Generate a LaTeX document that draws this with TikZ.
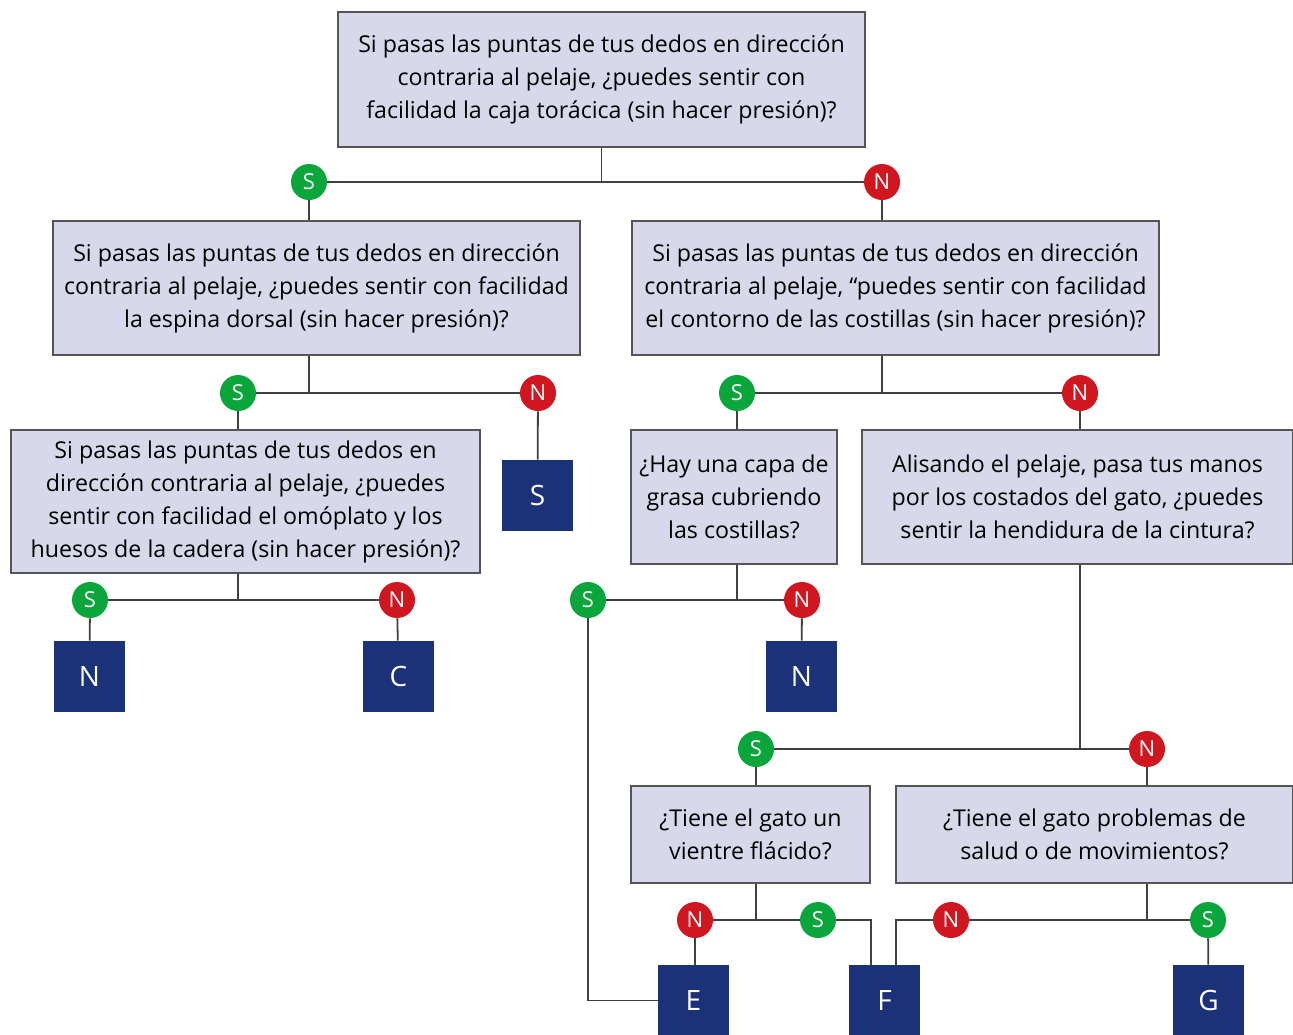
\documentclass[tikz,border=0pt]{standalone}
\usepackage{fontspec}
\setmainfont{Open Sans}
\usetikzlibrary{calc}
\definecolor{boxfill}{HTML}{D7D8EA}
\definecolor{boxline}{HTML}{555555}
\definecolor{resblue}{HTML}{1B3279}
\definecolor{sigreen}{HTML}{0AA63C}
\definecolor{nored}{HTML}{D0161E}
\tikzset{
  qbox/.style={draw=boxline,line width=0.7pt,fill=boxfill,align=center,inner sep=2pt,
    font=\fontsize{11.6}{16.5}\selectfont},
  res/.style={fill=resblue,text=white,minimum size=35.5pt,inner sep=0pt,
    font=\fontsize{14}{14}\selectfont},
  sibub/.style={circle,fill=sigreen,text=white,minimum size=18pt,inner sep=0pt,
    font=\fontsize{11}{11}\selectfont},
  nobub/.style={circle,fill=nored,text=white,minimum size=18pt,inner sep=0pt,
    font=\fontsize{11}{11}\selectfont},
  link/.style={draw=black!75,line width=0.9pt},
}
\begin{document}
\begin{tikzpicture}[x=0.5pt,y=-0.5pt]
\useasboundingbox (0,0) rectangle (1293,1034);
% ---- question boxes ----
\node[qbox,minimum width=263.5pt,minimum height=67.5pt] (top) at (601.5,79.5)
  {Si pasas las puntas de tus dedos en dirección\\contraria al pelaje, ¿puedes sentir con\\facilidad la caja torácica (sin hacer presión)?};
\node[qbox,minimum width=263.5pt,minimum height=67pt] (l1) at (316.5,288)
  {Si pasas las puntas de tus dedos en dirección\\contraria al pelaje, ¿puedes sentir con facilidad\\la espina dorsal (sin hacer presión)?};
\node[qbox,minimum width=263.5pt,minimum height=67pt] (r1) at (895.5,288)
  {Si pasas las puntas de tus dedos en dirección\\contraria al pelaje, “puedes sentir con facilidad\\el contorno de las costillas (sin hacer presión)?};
\node[qbox,minimum width=234.5pt,minimum height=71.5pt] (ll) at (245.5,501.5)
  {Si pasas las puntas de tus dedos en\\dirección contraria al pelaje, ¿puedes\\sentir con facilidad el omóplato y los\\huesos de la cadera (sin hacer presión)?};
\node[qbox,minimum width=103pt,minimum height=67pt] (fat) at (734,497)
  {¿Hay una capa de\\grasa cubriendo\\las costillas?};
\node[qbox,minimum width=215.5pt,minimum height=67pt] (alis) at (1077.5,497)
  {Alisando el pelaje, pasa tus manos\\por los costados del gato, ¿puedes\\sentir la hendidura de la cintura?};
\node[qbox,minimum width=119.5pt,minimum height=48.5pt] (vien) at (750.5,834.5)
  {¿Tiene el gato un\\vientre flácido?};
\node[qbox,minimum width=198.5pt,minimum height=48.5pt] (salud) at (1094.5,834.5)
  {¿Tiene el gato problemas de\\salud o de movimientos?};
% ---- results ----
\node[res] (resS) at (537.5,495.5) {S};
\node[res] (resN1) at (89.5,676.5) {N};
\node[res] (resC) at (398.5,676.5) {C};
\node[res] (resN2) at (801.5,676.5) {N};
\node[res] (resE) at (693.5,1000.5) {E};
\node[res] (resF) at (884.5,1000.5) {F};
\node[res] (resG) at (1208.5,1000.5) {G};
% ---- answer bubbles ----
\node[sibub] (sT) at (309,182) {S};   \node[nobub] (nT) at (882,182) {N};
\node[sibub] (sL) at (238,393) {S};   \node[nobub] (nL) at (538,393) {N};
\node[sibub] (sR) at (737,393) {S};   \node[nobub] (nR) at (1080,393) {N};
\node[sibub] (sLL) at (90,600) {S};   \node[nobub] (nLL) at (397,600) {N};
\node[sibub] (sF) at (588,600) {S};   \node[nobub] (nF) at (802,600) {N};
\node[sibub] (sA) at (756,749) {S};   \node[nobub] (nA) at (1147,749) {N};
\node[sibub] (sV) at (818,920) {S};   \node[nobub] (nV) at (695,920) {N};
\node[sibub] (sSa) at (1208,920) {S}; \node[nobub] (nSa) at (951,920) {N};
\coordinate (fL) at ($(resF.north)+(-13.5,0)$);
\coordinate (fR) at ($(resF.north)+(11.5,0)$);
% ---- connectors ----
\draw[link] (top.south) -- (top.south |- sT);
\draw[link] (sT) -- (nT);
\draw[link] (sT) -- (sT |- l1.north);
\draw[link] (nT) -- (nT |- r1.north);
% left branch
\draw[link] (sT |- l1.south) -- (sT |- sL);
\draw[link] (sL) -- (nL);
\draw[link] (sL) -- (sL |- ll.north);
\draw[link] (nL) -- (resS);
\draw[link] (sL |- ll.south) -- (sL |- sLL);
\draw[link] (sLL) -- (nLL);
\draw[link] (sLL) -- (resN1);
\draw[link] (nLL) -- (resC);
% right branch
\draw[link] (nT |- r1.south) -- (nT |- sR);
\draw[link] (sR) -- (nR);
\draw[link] (sR) -- (sR |- fat.north);
\draw[link] (nR) -- (nR |- alis.north);
\draw[link] (sR |- fat.south) -- (sR |- sF);
\draw[link] (sF) -- (nF);
\draw[link] (nF) -- (resN2);
\draw[link] (sF) |- (resE.west);
\draw[link] (nR |- alis.south) -- (nR |- sA);
\draw[link] (sA) -- (nA);
\draw[link] (sA) -- (sA |- vien.north);
\draw[link] (nA) -- (nA |- salud.north);
\draw[link] (sA |- vien.south) -- (sA |- sV);
\draw[link] (nV) -- (sV);
\draw[link] (nV) -- (nV |- resE.north);
\draw[link] (sV) -| (fL);
\draw[link] (nA |- salud.south) -- (nA |- sSa);
\draw[link] (nSa) -- (sSa);
\draw[link] (sSa) -- (resG);
\draw[link] (nSa) -| (fR);
\end{tikzpicture}
\end{document}
